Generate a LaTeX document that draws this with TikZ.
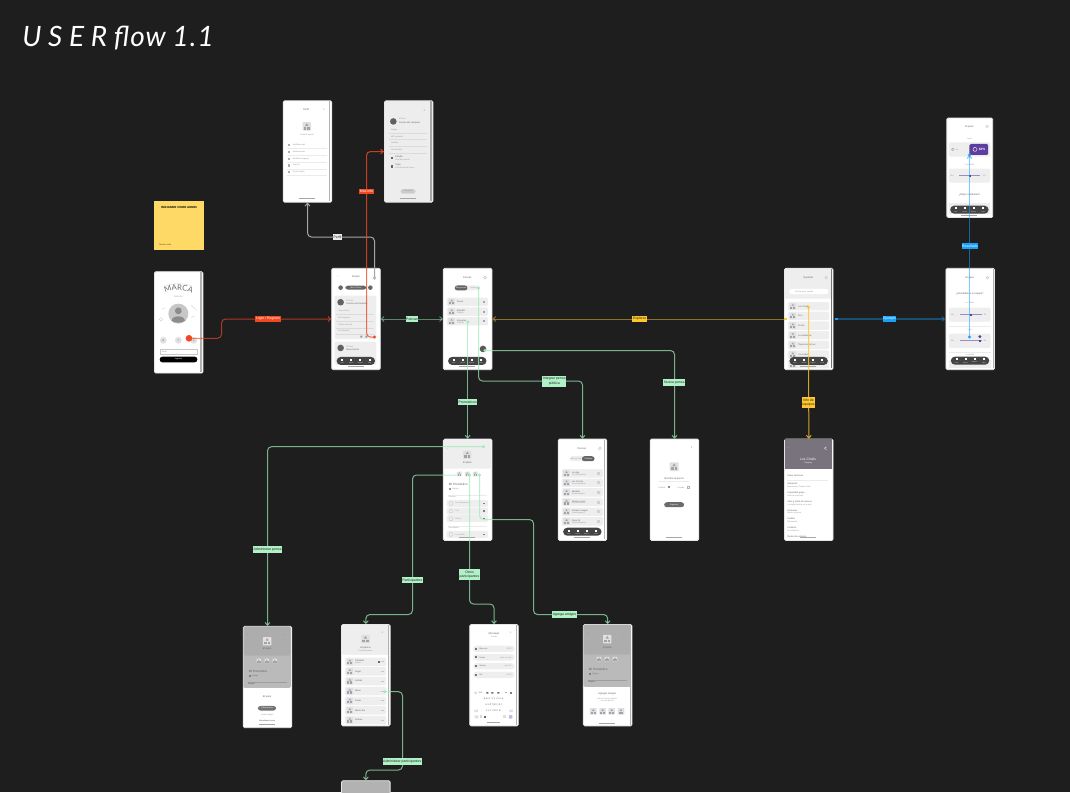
\documentclass[tikz,border=0pt]{standalone}
\usepackage{fontspec}
\setmainfont{Liberation Sans}
\newfontfamily\handfont{Lato}
\usetikzlibrary{arrows.meta,decorations.text}
\definecolor{canvas}{HTML}{1E1E1E}
\definecolor{rowfill}{HTML}{EEEEEE}
\definecolor{navfill}{HTML}{444444}
\definecolor{holdbg}{HTML}{E0E0E3}
\definecolor{holdfg}{HTML}{A2A2A8}
\definecolor{violet}{HTML}{5B3E9E}
\definecolor{flowgreen}{HTML}{9DEDB9}
\definecolor{tagred}{HTML}{F24822}
\definecolor{tagyellow}{HTML}{FFC72E}
\definecolor{tagblue}{HTML}{18A0FB}
\definecolor{notecol}{HTML}{FFD966}
\definecolor{teamhead}{HTML}{78737C}
\tikzset{
    phone/.style={draw=black!10,fill=white,rounded corners=1pt,line width=0.6pt,inner sep=0pt,minimum width=36.4pt,minimum height=76pt},
    txs/.style={anchor=west,inner sep=0pt,text=black!40,font=\fontsize{1.5}{1.9}\selectfont},
    txm/.style={anchor=west,inner sep=0pt,text=black!62,font=\fontsize{1.7}{2.1}\selectfont},
    txc/.style={inner sep=0pt,text=black!62,align=center,font=\fontsize{1.9}{2.3}\selectfont},
    sepline/.style={draw=black!8,line width=0.25pt},
    stripe/.style={draw=black!30,line width=0.9pt},
    flow/.style={line width=0.75pt,rounded corners=3pt,-{Straight Barb[length=2pt,width=3.6pt]}},
    flowg/.style={flow,draw=flowgreen,draw opacity=0.72},
    flowr/.style={flow,draw=tagred,draw opacity=0.8},
    flowy/.style={flow,draw=tagyellow,draw opacity=0.8},
    flowb/.style={flow,draw=tagblue,draw opacity=0.55,line width=0.9pt},
    flowk/.style={flow,draw=black!35},
    tag/.style={inner xsep=0.5pt,inner ysep=1.2pt,text=black!85,align=center,font=\fontsize{2.6}{3.3}\selectfont},
    taggreen/.style={tag,fill=flowgreen!80!white},
    tagr/.style={tag,fill=tagred,text=white},
    tagy/.style={tag,fill=tagyellow},
    tagb/.style={tag,fill=tagblue,text=white},
    tagk/.style={tag,fill=black!8},
    pin/.style={circle,inner sep=0pt,minimum size=2.4pt},
}
% placeholder picture: x, y, size
\newcommand{\holder}[3]{
    \begin{scope}[shift={(#1,#2)},scale=#3/8]
        \fill[holdbg,rounded corners=0.4pt] (-4,-4) rectangle (4,4);
        \fill[holdfg] (0,-3) -- (-1.5,-0.6) -- (1.5,-0.6) -- cycle;
        \fill[holdfg] (-3,0.4) rectangle (-0.5,3);
        \fill[holdfg] (0.5,0.4) rectangle (3,3);
    \end{scope}
}
% bottom navigation: name, dx, y
\newcommand{\navpill}[3]{
    \fill[navfill,rounded corners=3pt] (5.3+#2,#3) rectangle (43.7+#2,#3+8);
    \foreach \px/\pn/\pc in {11/1/Inicio,20/2/Pencas,29/3/Explorar,38.3/4/Perfil}{
        \fill[white] (\px+#2-1,#3+1.8) rectangle (\px+#2+1,#3+3.8);
        \node[inner sep=0pt,text=white,font=\fontsize{1}{1.2}\selectfont] (#1-nav\pn) at (\px+#2,#3+6) {\pc};
    }
}
% list row: name, y, title, subtitle
\newcommand{\listrow}[4]{
    \fill[rowfill,rounded corners=1pt] (3.7,#2-4.2) rectangle (45,#2+4.2);
    \holder{8.7}{#2}{6.6}
    \node[txm] (#1a) at (13.7,#2-0.8) {#3};
    \node[txs] (#1b) at (13.7,#2+1.3) {#4};
}
% list row with a title only: name, y, title
\newcommand{\plainrow}[3]{
    \fill[rowfill,rounded corners=1pt] (3.7,#2-4.2) rectangle (45,#2+4.2);
    \holder{8.7}{#2}{6.6}
    \node[txm] (#1a) at (13.7,#2) {#3};
}
\newcommand{\homebar}[1]{\fill[black!35] (16.3,#1) rectangle (32.3,#1+1);}

\begin{document}
\begin{tikzpicture}[x=0.75pt,y=0.75pt,yscale=-1,xscale=1]
    \useasboundingbox (0,0) rectangle (1070,792);
    \fill[canvas] (0,0) rectangle (1070,792);

    \node[white,anchor=west,inner sep=0pt,font=\handfont\itshape\fontsize{21}{24}\selectfont] (title) at (22,38) {{\addfontfeature{LetterSpace=24}USER} {\addfontfeature{LetterSpace=4}flow} {\addfontfeature{LetterSpace=4}1.1}};

    % note
    \node[fill=notecol,minimum width=36.8pt,minimum height=36.8pt,inner sep=0pt] (note) at (179,225.5) {};
    \node[inner sep=0pt,text=black,font=\bfseries\fontsize{2.2}{2.6}\selectfont] (notetop) at (179,207) {INICIANDO COMO ADMIN};
    \node[txs,text=black!70!notecol] (notesign) at (158.5,244.3) {Christian Ortiz};

    % screens
    \node[phone] (login) at (178.7,322.4) {};
    \node[phone] (grupal) at (356,319) {};
    \node[phone] (perfil) at (307.5,151.5) {};
    \node[phone,fill=black!7] (info) at (408.7,151.5) {};
    \node[phone] (pencas) at (467.65,319) {};
    \node[phone] (explorar) at (808.8,319) {};
    \node[phone] (pasos) at (970.2,319) {};
    \node[phone,minimum width=34.4pt,minimum height=74.6pt] (paso) at (969.8,167.8) {};
    \node[phone] (detalle) at (467.65,489.8) {};
    \node[phone] (lista) at (582.5,489.8) {};
    \node[phone] (nueva) at (674.5,489.8) {};
    \node[phone] (chiefs) at (808.8,489.8) {};
    \node[phone] (admin) at (267.5,677) {};
    \node[phone] (part) at (365.85,675.2) {};
    \node[phone] (mensajes) at (494,675.2) {};
    \node[phone] (agrega) at (607.65,675.2) {};
    \node[phone,fill=black!30] (corte) at (365.85,831.4) {};

    % login
    \begin{scope}[shift={(login.north west)}]
        \begin{scope}[yscale=-1]
            \path[decorate,decoration={text along path,text align=center,text={|\handfont\fontsize{5.8}{6}\selectfont\color{black!58}|MARCA}}] (7,-24) .. controls (17,-17.5) and (32,-17.5) .. (42,-24);
        \end{scope}
        \node[txs,anchor=center] (lgsub) at (24.3,25.3) {PENCAS};
        \draw[black!20,line width=0.25pt] (11,15) .. controls (18,11.5) and (31,11.5) .. (38,15);
        \draw[black!20,line width=0.25pt] (8,38) -- (11,36.5) (37,34) -- (43,39) (7,48) circle (1.8) (37,46) -- (41,44.5);
        \fill[black!22] (24.3,42.3) circle (10);
        \fill[black!45] (24.3,39.5) circle (3.4);
        \fill[black!45] (17.5,49.5) .. controls (18,43.5) and (30.5,43.5) .. (31,49.5) .. controls (27,52) and (21,52) .. (17.5,49.5);
        \fill[black!12] (9.3,69) circle (3.4) (24.3,69) circle (3.4) (39.7,69) circle (3.4);
        \node[txc] (lgG) at (9.3,69) {G};
        \node[txc] (lgF) at (24.3,69) {f};
        \node[txc] (lgA) at (39.7,69) {a};
        \draw[black!22,line width=0.3pt] (5.7,77.7) rectangle (43.3,83.3);
        \node[txs] (lgmail) at (7.5,80.5) {Email};
        \fill[black,rounded corners=2pt] (5.7,85.3) rectangle (43.3,91);
        \node[txs,anchor=center,text=white] (lgbtn) at (24.5,88.1) {Ingresar};
        \draw[stripe] (47,1) -- (47,100.5);
    \end{scope}

    % perfil
    \begin{scope}[shift={(perfil.north west)}]
        \node[txc] (pftitle) at (23.3,9.3) {Perfil};
        \node[txc] (pfclose) at (41,9) {×};
        \holder{24}{26}{8.6}
        \node[txs,anchor=center] (pfname) at (24,34) {Cambiar avatar};
        \foreach \yy/\pn/\pt in {44.7/1/Modificar mail,51.7/2/Notificaciones,58.3/3/Modificar lenguaje,65/4/Soporte,71.7/5/Cerrar sesión}{
            \fill[black!32] (5,\yy-1.2) rectangle (7.6,\yy+1.2);
            \node[txs] (pfrow\pn) at (9.7,\yy) {\pt};
            \draw[sepline] (4,\yy+3.3) -- (44,\yy+3.3);
        }
        \draw[stripe] (46.9,1) -- (46.9,100.5);
        \homebar{98}
    \end{scope}

    % mas info
    \begin{scope}[shift={(info.north west)}]
        \node[txc] (inclose) at (40.3,10.7) {×};
        \fill[black!62] (9.3,21) circle (3.3);
        \node[txs] (inlabel) at (14.7,18.7) {El Paso};
        \node[txm] (inname) at (14.7,22.3) {Pencas del campeón};
        \foreach \yy/\pn/\pt in {29.3/1/Reglas,36/2/Mi Pronóstico,42.7/3/Partidos,49.7/4/Info Mundial}{
            \node[txs] (inrow\pn) at (6.7,\yy) {\pt};
            \draw[sepline,draw=black!14] (5,\yy+3.2) -- (43,\yy+3.2);
        }
        \fill[black!60] (6.5,56.5) rectangle (9,59);
        \node[txm] (inst) at (11,56.5) {Estadio};
        \node[txs] (insub) at (11,59) {Final del mundo};
        \fill[black!60] (6.5,65) rectangle (9,67.5);
        \node[txm] (incp) at (11,65) {Copa};
        \node[txs] (incs) at (11,67.5) {Fecha final del torneo};
        \fill[black!20,rounded corners=2pt] (16.5,88.7) rectangle (31.5,93.3);
        \node[txs,anchor=center] (inshare) at (24,91) {Compartir};
        \draw[stripe,draw=black!35] (47,1) -- (47,100.5);
        \homebar{98}
    \end{scope}

    % grupal
    \begin{scope}[shift={(grupal.north west)}]
        \node[txc] (grback) at (6.7,9.3) {‹};
        \node[txc] (grtitle) at (24.3,9.3) {Grupal};
        \fill[black!60] (9.3,19.7) circle (2.3) (39,19.7) circle (2.3);
        \fill[black!60,rounded corners=2pt] (14,17.7) rectangle (35,21.7);
        \node[txs,anchor=center,text=white] (grdate) at (24.5,19.7) {Mar 23 Feb};
        \fill[rowfill,rounded corners=1.5pt] (3.3,27.7) rectangle (45,71.3);
        \fill[black!62] (9.3,34.3) circle (3.3);
        \node[txs] (grla) at (14.7,32.5) {El Paso};
        \node[txm] (grlb) at (14.7,35.7) {Pencas del campeón};
        \foreach \yy/\pn/\pt in {43/1/Grupo Norte,50/2/Mi Pronóstico,56.7/3/Partidos del día,63.3/4/Info Mundial}{
            \node[txs] (grrow\pn) at (6.7,\yy) {\pt};
            \draw[sepline,draw=black!14] (5,\yy+3.3) -- (43,\yy+3.3);
        }
        \fill[black!40] (29,67.7) rectangle (31,69.7) (34,67.7) rectangle (36,69.7);
        \fill[rowfill,rounded corners=1.5pt] (3.3,73.7) rectangle (45,97);
        \fill[black!62] (9.3,80) circle (3.3);
        \node[txs] (grma) at (14.7,78.5) {El Paso};
        \node[txm] (grmb) at (14.7,81.5) {Nueva fecha};
        \navpill{gr}{0}{89}
        \homebar{98}
    \end{scope}

    % pencas
    \begin{scope}[shift={(pencas.north west)}]
        \node[txc] (pntitle) at (24.3,9.7) {Pencas};
        \draw[black!25,line width=0.3pt] (42,9.7) circle (1.4);
        \fill[rowfill,rounded corners=2pt] (11.7,17.5) rectangle (36.7,22.5);
        \fill[black!60,rounded corners=2pt] (11.7,17.5) rectangle (24.5,22.5);
        \node[txs,anchor=center,text=white] (pnseg) at (18,20) {Mis pencas};
        \node[txs,anchor=center] (pnsegb) at (30.5,20) {Grupos};
        \plainrow{pna}{34}{Pasos}
        \listrow{pnb}{43.7}{Mundial}{Pública}
        \listrow{pnc}{53.3}{Grupales}{Privada}
        \foreach \yy in {34,43.7,53.3}{\fill[black!35] (39.7,\yy-1) rectangle (41.7,\yy+1);}
        \fill[black!65] (40,81) circle (3.3);
        \navpill{pn}{-0.2}{89}
        \homebar{98}
    \end{scope}

    % explorar
    \begin{scope}[shift={(explorar.north west)}]
        \fill[rowfill,rounded corners=1pt] (0.4,0.4) rectangle (48.2,30.7);
        \node[txc] (extitle) at (24.3,9.7) {Explorar};
        \draw[black!25,line width=0.3pt] (42,9.7) circle (1.4);
        \fill[white,rounded corners=2pt] (5,21) rectangle (44.3,26.3);
        \node[txs] (exsearch) at (11,23.7) {Buscar país, ciudad};
        \plainrow{exa}{38.3}{Los Chiefs}
        \plainrow{exb}{48}{Toro}
        \plainrow{exc}{57.7}{Cívica}
        \plainrow{exd}{67.3}{La Academia}
        \plainrow{exe}{77}{Tiburones del sur}
        \plainrow{exf}{86.7}{Los Lobos}
        \plainrow{exg}{96.3}{Estrella}
        \navpill{ex}{0}{89}
        \draw[stripe,draw=black!55] (47,1) -- (47,100.5);
        \homebar{98.3}
    \end{scope}

    % pasos
    \begin{scope}[shift={(pasos.north west)}]
        \node[txc] (pstitle) at (24.3,9.7) {El paso};
        \draw[black!25,line width=0.3pt] (42,9.7) circle (1.4);
        \node[txc] (psq) at (24.3,26.3) {¿Resultado a tu equipo?};
        \node[txs,anchor=center,text=violet!55] (psla) at (24.3,35) {Los Pibes};
        \fill[rowfill,rounded corners=1pt] (3.3,39.7) rectangle (45,53.7);
        \draw[violet!60,line width=0.4pt] (14.3,46.7) -- (36,46.7);
        \fill[violet] (24,45.7) rectangle (26,47.7);
        \node[txs] (psa) at (5,46.7) {Min};
        \node[txs] (psb) at (37.7,46.7) {1/5};
        \draw[sepline] (3,58) -- (45,58);
        \node[txs,anchor=center,text=violet!55] (pslb) at (24.3,61.7) {Valor};
        \fill[rowfill,rounded corners=1pt] (3.3,65.7) rectangle (45,80);
        \draw[violet!60,line width=0.4pt] (14.3,72.7) -- (36,72.7);
        \fill[violet] (33.3,71.7) rectangle (35.3,73.7);
        \fill[violet] (34.3,68.7) circle (1.7);
        \node[txs] (psc) at (5,72.7) {Min};
        \node[txs] (psd) at (37.7,72.7) {1/5};
        \draw[sepline] (3,84) -- (45,84);
        \node[txs,anchor=center,text=violet!55] (pslc) at (24.3,87.2) {Localidad};
        \fill[rowfill] (3.3,92) rectangle (45,100.5);
        \navpill{ps}{0}{88.7}
        \draw[stripe] (47.6,1) -- (47.6,100.5);
    \end{scope}

    % paso de arriba
    \begin{scope}[shift={(paso.north west)}]
        \node[txc] (pttitle) at (23,8.7) {El paso};
        \draw[black!25,line width=0.3pt] (40.7,8.7) circle (1.4);
        \node[txs,anchor=center,text=violet!55] (ptla) at (23,21) {Local};
        \fill[rowfill,rounded corners=1pt] (2.3,24.7) rectangle (44,39);
        \draw[black!40,line width=0.25pt] (6.3,31.7) circle (1.3);
        \node[txs] (ptno) at (9,31.7) {No};
        \fill[violet,rounded corners=1pt] (23,26.3) rectangle (41.7,37.3);
        \draw[white,line width=0.3pt] (28.5,31.7) circle (2);
        \node[inner sep=0pt,text=white,font=\bfseries\fontsize{2.4}{3}\selectfont] (ptpc) at (35.5,31.7) {82\%};
        \node[txs,anchor=center,text=violet!55] (ptlb) at (23,46.7) {Localidad};
        \fill[rowfill,rounded corners=1pt] (2.3,51) rectangle (44,65);
        \draw[violet!60,line width=0.4pt] (13,58) -- (34,58);
        \fill[violet] (22.7,57) rectangle (24.7,59);
        \node[txs] (ptc) at (4,58) {Min};
        \node[txs] (ptd) at (36,58) {1/5};
        \node[txc] (ptq) at (23,77) {¿Mejor cuadrante?};
        \fill[rowfill] (2.3,85) rectangle (44,96);
        \navpill{pt}{-1.6}{88}
        \fill[black!35] (15,97.3) rectangle (30.7,98.4);
    \end{scope}

    % detalle
    \begin{scope}[shift={(detalle.north west)}]
        \fill[rowfill,rounded corners=1.5pt] (0.5,0.5) rectangle (48,30);
        \node[txc] (dtback) at (5,9.7) {‹};
        \node[txc] (dtdots) at (40.7,9.7) {···};
        \holder{24.3}{16}{8.4}
        \node[txc] (dttitle) at (24.3,23.7) {El paso};
        \holder{16.3}{35.3}{4.6}
        \holder{24.3}{35.3}{4.6}
        \holder{32.3}{35.3}{4.6}
        \node[txm,font=\fontsize{2.3}{2.7}\selectfont] (dtmi) at (5.7,45.7) {Mi Pronóstico};
        \fill[black!40] (5.7,49.3) rectangle (7.7,51.3);
        \node[txs] (dteq) at (9,50.3) {Equipo};
        \draw[sepline] (5,56.3) -- (44,56.3);
        \node[txs] (dtgr) at (5.7,58.5) {Grupos};
        \foreach \yy/\pn/\pt in {64.7/1/Los Campeones,72.3/2/Toro,80/3/Cívica,95.7/4/Los Chiefs}{
            \fill[rowfill,rounded corners=1pt] (3.7,\yy-3.5) rectangle (45,\yy+3.5);
            \draw[black!25,line width=0.2pt] (8,\yy) circle (2);
            \node[txs] (dtrow\pn) at (12,\yy) {\pt};
            \fill[black!50] (39.7,\yy-0.7) rectangle (42.2,\yy+0.7);
        }
        \draw[sepline] (5,87.3) -- (44,87.3);
        \node[txs] (dtres) at (5.7,89.3) {Resultados};
        \homebar{98.2}
    \end{scope}

    % lista publica
    \begin{scope}[shift={(lista.north west)}]
        \node[txc] (lttitle) at (24,9.7) {Pencas};
        \draw[black!25,line width=0.3pt] (42,9.7) circle (1.4);
        \fill[rowfill,rounded corners=2pt] (11.7,17.5) rectangle (36.7,22.5);
        \fill[black!60,rounded corners=2pt] (24,17.5) rectangle (36.7,22.5);
        \node[txs,anchor=center] (ltseg) at (18,20) {Mis pencas};
        \node[txs,anchor=center,text=white] (ltsegb) at (30.5,20) {Públicas};
        \listrow{lta}{34.7}{La Liga}{12 participantes}
        \listrow{ltb}{44}{Los Cracks}{24 participantes}
        \listrow{ltc}{53.7}{Mundial}{8 participantes}
        \listrow{ltd}{63.3}{Torneo Local}{40 participantes}
        \listrow{lte}{73}{Premier League}{6 participantes}
        \listrow{ltf}{82.7}{Copa 23}{13 participantes}
        \foreach \yy in {34.7,44,53.7,63.3,73,82.7}{\fill[black!18] (39.5,\yy-1.5) rectangle (42.5,\yy+1.5);}
        \navpill{lt}{0}{89}
        \draw[stripe] (47,1) -- (47,100.5);
        \homebar{98}
    \end{scope}

    % nueva penca
    \begin{scope}[shift={(nueva.north west)}]
        \node[txc] (nvclose) at (41.7,9.3) {×};
        \holder{24.3}{28}{8.8}
        \node[txc] (nvname) at (24.3,39.7) {Nombre la penca};
        \draw[sepline] (9.3,42.3) -- (39.3,42.3);
        \node[txs,anchor=center] (nvpub) at (12,48.7) {Pública};
        \fill[black!45] (18,47.7) rectangle (20,49.7);
        \node[txs,anchor=center] (nvpri) at (31,48.7) {Privada};
        \draw[black!30,line width=0.2pt] (37.7,47.7) rectangle (39.7,49.7);
        \fill[black!58,rounded corners=2pt] (14.3,63.5) rectangle (34.3,68.5);
        \node[txs,anchor=center,text=white] (nvbtn) at (24.3,66) {Siguiente};
        \homebar{98.2}
    \end{scope}

    % los chiefs
    \begin{scope}[shift={(chiefs.north west)}]
        \fill[teamhead] (0.4,0.4) rectangle (48.2,30.7);
        \node[txc,text=white] (chback) at (4.3,9) {‹};
        \draw[white,line width=0.25pt] (40.3,9.5) -- (42.3,8) (40.3,9.5) -- (42.3,11);
        \node[txc,text=white,font=\fontsize{2.5}{3}\selectfont] (chname) at (24,20.3) {Los Chiefs};
        \node[txs,anchor=center,text=white] (chsub) at (24,24.3) {Uruguay};
        \node[txm] (chsobre) at (3,37) {Sobre Nosotros};
        \draw[sepline] (3,41) -- (44,41);
        \foreach \ya/\yb/\pn/\pa/\pb in {45.3/48.3/1/Ubicación/Montevideo; Parque Rodó,54/57/2/Capacidad grupo/Hasta 8 personas,62.7/66/3/Valor y fecha de reserva/Consultar fechas en la web,71.7/74.3/4/Descanso/Martes y jueves,80.3/83/5/Ciudad/Montevideo,89/91.7/6/Contacto/Ana Ramírez}{
            \node[txm] (chp\pn) at (3,\ya) {\pa};
            \node[txs] (chq\pn) at (3,\yb) {\pb};
        }
        \node[txm] (chp7) at (3,97.5) {Redes de contacto};
        \homebar{98}
    \end{scope}

    % administrar
    \begin{scope}[shift={(admin.north west)}]
        \fill[black!27,rounded corners=1pt] (0.5,0.5) rectangle (48,62);
        \fill[black!32,rounded corners=1.5pt] (1,1) rectangle (47.5,29.7);
        \node[txc] (adback) at (5,9) {‹};
        \node[txc] (addots) at (40.7,9) {···};
        \holder{24.3}{15.3}{8.4}
        \node[txc] (adtitle) at (24.3,23.3) {El paso};
        \holder{16}{35}{4.6}
        \holder{24}{35}{4.6}
        \holder{32}{35}{4.6}
        \node[txm,font=\fontsize{2.3}{2.7}\selectfont] (admi) at (5.7,45.7) {Mi Pronóstico};
        \fill[black!50] (5.7,49) rectangle (7.7,51);
        \node[txs,text=black!55] (adeq) at (9,50) {Equipo};
        \draw[black!38,line width=0.25pt] (5,56.3) -- (44,56.3);
        \node[txs,text=black!70] (adgr) at (5,58.3) {Grupos};
        \node[txc] (adsheet) at (24.3,70.7) {El paso};
        \fill[black!55,rounded corners=2pt] (15,80) rectangle (33.3,84.6);
        \node[txs,anchor=center,text=white] (adbtn) at (24.2,82.3) {Editar penca};
        \node[txs,anchor=center] (adinv) at (24.3,88.7) {Invitar amigos};
        \node[txs,anchor=center,text=black!70] (adaba) at (24.3,94.7) {Abandonar penca};
        \homebar{98}
    \end{scope}

    % participantes
    \begin{scope}[shift={(part.north west)}]
        \fill[rowfill,rounded corners=1.5pt] (0.5,0.5) rectangle (48,30.7);
        \node[txc] (paclose) at (41.3,9) {×};
        \holder{24.3}{15}{8.4}
        \node[txc] (patitle) at (24.3,24) {El penca};
        \node[txs,anchor=center] (pasub) at (24.3,27) {12 participantes};
        \listrow{paa}{37.7}{Christian}{Admin}
        \plainrow{pab}{47.3}{Angel}
        \plainrow{pac}{57}{Andrés}
        \plainrow{pad}{67}{Mario}
        \plainrow{pae}{76.7}{Paula}
        \plainrow{paf}{86.3}{Marco Ibo}
        \plainrow{pag}{96}{Andrea}
        \foreach \yy in {37.7,47.3,57,67,76.7,86.3,96}{\fill[black!22] (40,\yy-0.4) rectangle (43.2,\yy+0.4);}
        \fill[black!60] (36.5,36.7) rectangle (38.5,38.7);
        \draw[stripe] (47.4,1) -- (47.4,100.5);
    \end{scope}

    % mensajes
    \begin{scope}[shift={(mensajes.north west)}]
        \node[txc] (mstitle) at (24.7,10) {Mensajes};
        \node[txs,anchor=center] (mssub) at (24.7,13) {3 chats};
        \node[txc] (msclose) at (41.3,9) {×};
        \foreach \yy/\pn/\pa/\pb in {24.7/1/Mira esto/10:22,33.3/2/Pelota/Hace un rato,42/3/Hincha/Ayer 21,50.7/4/Gol/10:02}{
            \fill[rowfill,rounded corners=2.5pt] (3.7,\yy-3.2) rectangle (45.3,\yy+3.2);
            \fill[black!55] (6,\yy-1) rectangle (7.8,\yy+1);
            \node[txs,text=black!60] (msa\pn) at (9.7,\yy) {\pa};
            \node[txs,anchor=east] (msb\pn) at (42.5,\yy) {\pb};
        }
        \fill[violet!20,rounded corners=0.5pt] (5,67.4) rectangle (7.8,70);
        \node[txs,anchor=center,text=black!65] (mstop) at (11.3,68.7) {GIF};
        \fill[black!60] (17,67.9) rectangle (19,69.5) (22,67.9) rectangle (24,69.5) (28,67.9) rectangle (30,69.5);
        \fill[black!30] (36,68.2) rectangle (38,69.2);
        \fill[black!50] (41,67.9) rectangle (42.5,69.5);
        \foreach \ky/\pn/\pk in {75/1/q w e r t y u i o p,80.7/2/a s d f g h j k l,86.7/3/z x c v b n m}{
            \node[txs,anchor=center,text=black!55,font=\fontsize{2}{2.4}\selectfont] (mskey\pn) at (24.2,\ky) {\pk};
        }
        \fill[black!12] (5,85.4) rectangle (8.5,88) (40,85.4) rectangle (43.5,88);
        \fill[violet!18,rounded corners=0.5pt] (5.2,91.2) rectangle (9.2,94.2);
        \fill[violet!35] (41.3,92.7) circle (2);
        \fill[black!15] (10.5,91.2) rectangle (13,94.2);
        \fill[black!60] (14.5,91.7) rectangle (16.5,93.7);
        \fill[black!12] (33.5,91.2) rectangle (36.5,94.2);
        \draw[stripe] (47,1) -- (47,100.5);
        \fill[black!35] (18,97.8) rectangle (30.5,98.7);
    \end{scope}

    % agrega amigos
    \begin{scope}[shift={(agrega.north west)}]
        \fill[black!27,rounded corners=1pt] (0.5,0.5) rectangle (48,62.7);
        \fill[black!32,rounded corners=1.5pt] (1,1) rectangle (47.5,30.5);
        \node[txc] (agback) at (5,9.7) {‹};
        \node[txc] (agdots) at (40.7,9.7) {···};
        \holder{24.3}{15}{8.4}
        \node[txc] (agtitle) at (24.3,24) {El paso};
        \holder{16}{35}{4.6}
        \holder{24}{35}{4.6}
        \holder{32}{35}{4.6}
        \node[txm,font=\fontsize{2.3}{2.7}\selectfont] (agmi) at (5.7,45.7) {Mi Pronóstico};
        \fill[black!50] (5.7,49) rectangle (7.7,51);
        \node[txs,text=black!55] (ageq) at (9,50) {Equipo};
        \draw[black!38,line width=0.25pt] (5,56) -- (44,56);
        \node[txs,text=black!70] (aggr) at (5,58.3) {Grupos};
        \node[txc] (agsheet) at (24.3,70) {Agregar amigos};
        \node[txs,anchor=center,align=center] (agsub) at (24.3,76) {Aún no tienes amigos\\en esta penca};
        \holder{10.3}{87.3}{6.6}
        \holder{19.7}{87.3}{6.6}
        \holder{28.7}{87.3}{6.6}
        \holder{38}{87.3}{6.6}
        \draw[stripe] (47.4,1) -- (47.4,100.5);
        \homebar{98.4}
    \end{scope}

    % pins
    \node[pin,fill=tagred,minimum size=5pt] (dLogin) at (189,338.3) {};
    \node[pin,fill=black!18,draw=black!30,line width=0.2pt] (dPerfil) at (374.5,278) {};
    \node[pin,fill=tagred] (dMas) at (374.5,337) {};
    \node[pin,fill=flowgreen] (dPronos) at (467.65,322) {};
    \node[pin,fill=flowgreen] (dInt) at (478.5,288) {};
    \node[pin,fill=flowgreen] (dNueva) at (485,350.5) {};
    \node[pin,fill=flowgreen] (dAdmin) at (483.5,446.7) {};
    \node[pin,fill=flowgreen,minimum size=1pt] (dPart) at (456,475) {};
    \node[pin,fill=flowgreen] (dOtros) at (469.5,475) {};
    \node[pin,fill=flowgreen] (dAgr) at (479.5,475) {};
    \node[pin,fill=flowgreen] (dAdmPart) at (385,691.7) {};
    \node[pin,fill=tagyellow] (dChiefs) at (808.5,307.3) {};
    \node[pin,fill=tagblue] (dResA) at (969.5,337) {};
    \node[pin,fill=tagblue] (dResB) at (969.5,155) {};
    \node[pin,fill=tagblue,rectangle,minimum size=1.6pt] (dEj) at (836.5,319) {};
    \node[pin,fill=tagyellow,rectangle,minimum size=1.6pt] (dExp) at (785.5,319) {};

    % bends
    \coordinate (cLogin) at (221.5,319);
    \coordinate (cPerfil) at (307.5,237);
    \coordinate (cMas) at (366.5,151.5);
    \coordinate (cInt) at (582.5,381);
    \coordinate (cPart) at (412.5,614.5);
    \coordinate (cOtros) at (494,604);
    \coordinate (cAgrA) at (533.5,519.5);
    \coordinate (cAgrB) at (607.65,614.5);
    \coordinate (cAdmPart) at (402.5,770);

    % connectors
    \draw[flowr,draw opacity=0.68] (dLogin.center) -| (cLogin) -- (grupal.west);
    \draw[flowk] (dPerfil.center) |- (cPerfil) -- (perfil.south);
    \draw[flowr] (dMas.center) -| (cMas) -- (info.west);
    \draw[flowg,draw opacity=0.5,{Straight Barb[length=2pt,width=3.6pt]}-{Straight Barb[length=2pt,width=3.6pt]}] (grupal.east) -- (pencas.west);
    \draw[flowy,draw opacity=0.5] (dExp.center) -- (pencas.east);
    \draw[flowb,draw opacity=0.38] (dEj.center) -- (pasos.west);
    \draw[flowb] (dResA.center) -- (dResB.center);
    \draw[flowy] (dChiefs.center) -- (chiefs.north);
    \draw[flowg] (dPronos.center) -- (detalle.north);
    \draw[flowg] (dInt.center) |- (cInt) -- (lista.north);
    \draw[flowg] (dNueva.center) -| (nueva.north);
    \draw[flowg] (dAdmin.center) -| (admin.north);
    \draw[flowg] (dPart.center) -| (cPart) -| (part.north);
    \draw[flowg] (dOtros.center) |- (cOtros) -- (mensajes.north);
    \draw[flowg] (dAgr.center) |- (cAgrA) |- (cAgrB) -- (agrega.north);
    \draw[flowg] (dAdmPart.center) -| (cAdmPart) -| (corte.north);

    % labels
    \node[tagr] (lLogin) at (268,319) {Login / Registro};
    \node[tagk] (lPerfil) at (337.5,236.8) {Perfil};
    \node[tagr] (lMas) at (366.5,191.5) {Más info};
    \node[taggreen] (lPencas) at (412,319) {Pencas};
    \node[tagy] (lExplorar) at (639.5,319) {Explorar};
    \node[tagb] (lEjemplo) at (889.5,319) {Ejemplo};
    \node[tagb] (lResultado) at (970,246) {Resultado};
    \node[tagy] (lInfo) at (808.5,402.6) {Info de\\equipos};
    \node[taggreen] (lPronos) at (467.7,402.2) {Pronosticos};
    \node[taggreen] (lIntegrar) at (554.3,381.3) {Integrar penca\\pública};
    \node[taggreen] (lNueva) at (674.3,382.4) {Nueva penca};
    \node[taggreen] (lAdmin) at (267.6,549.7) {Administrar penca};
    \node[taggreen] (lPart) at (412.3,580.2) {Participantes};
    \node[taggreen] (lOtros) at (469.5,574.5) {Otros\\participantes};
    \node[taggreen] (lAgrega) at (564.5,614.5) {Agrega amigos};
    \node[taggreen] (lAdmPart) at (402.3,761.5) {Administrar participantes};
\end{tikzpicture}
\end{document}
